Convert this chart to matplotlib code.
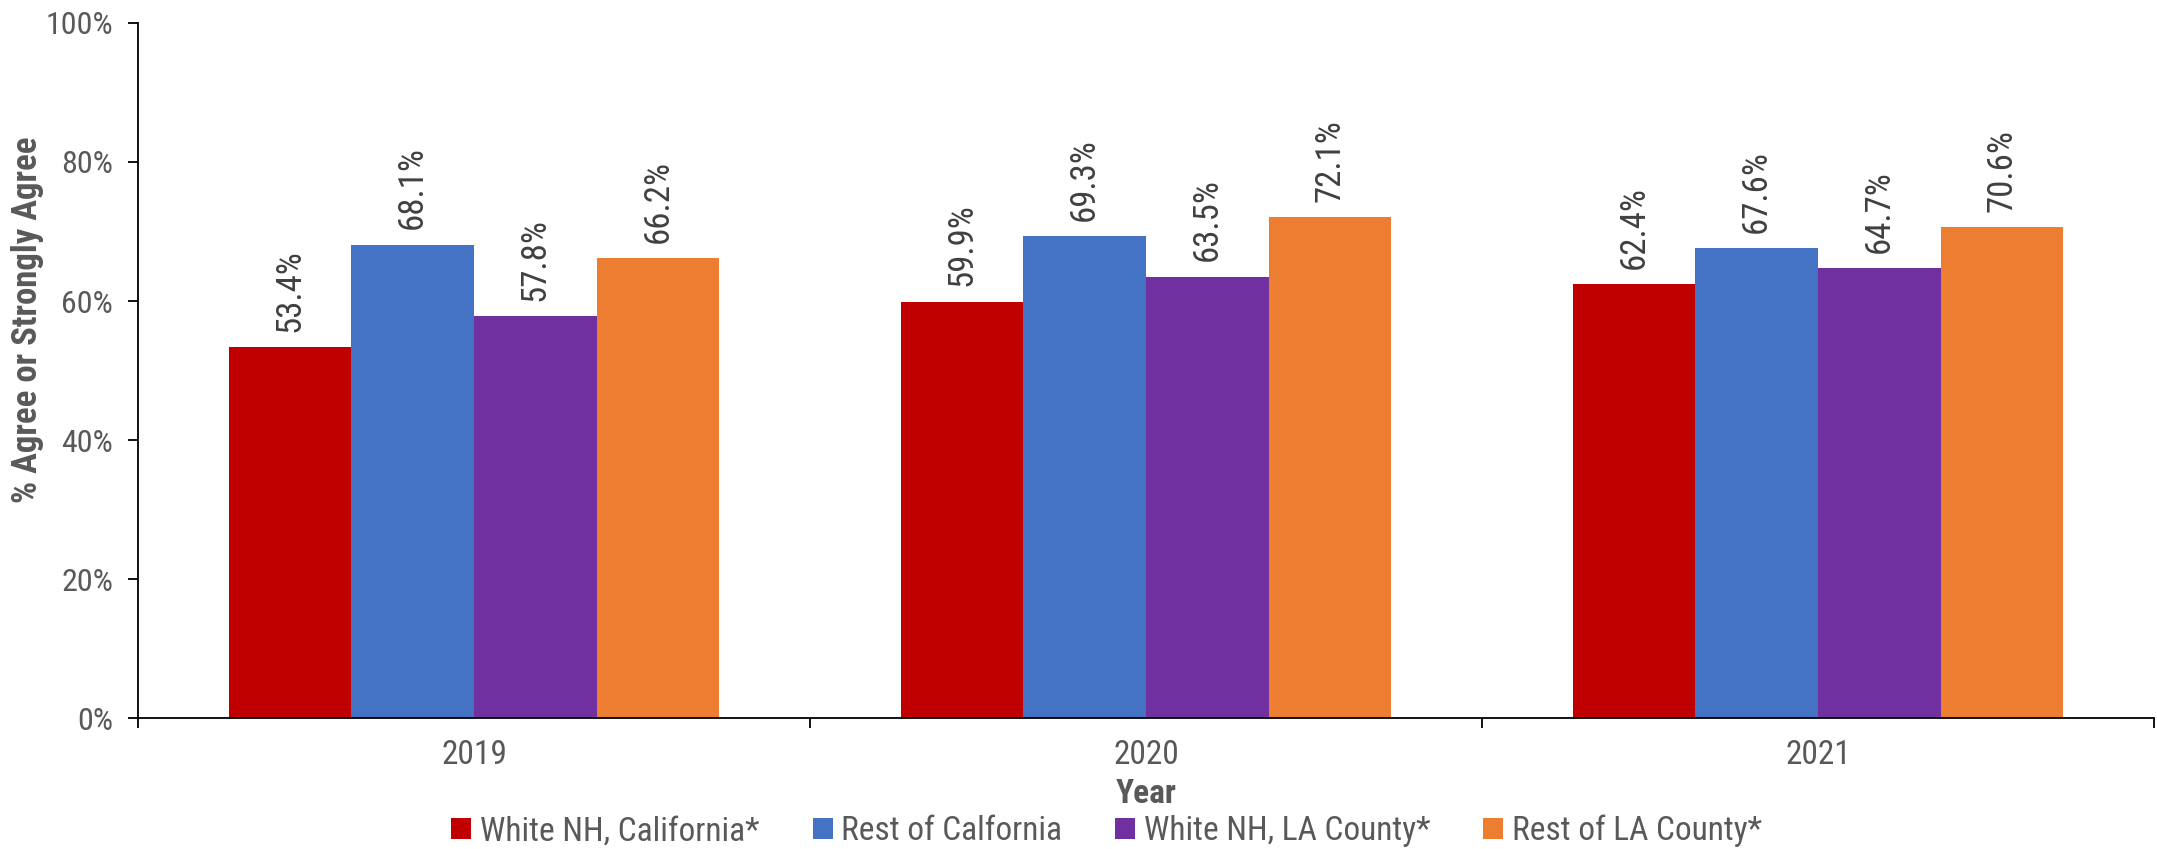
import matplotlib
matplotlib.use("Agg")
import matplotlib.pyplot as plt
import matplotlib.font_manager as fm
import numpy as np
from matplotlib.ticker import FuncFormatter, FixedLocator

# pick a narrow sans if one is installed (reference uses Calibri)
installed = {(f.name, f.stretch) for f in fm.fontManager.ttflist}
names = {n for n, s in installed}
font_family = "Liberation Sans"
font_stretch = "normal"
for n in ["Liberation Sans Narrow", "Roboto Condensed", "Open Sans Condensed"]:
    if n in names:
        font_family = n
        break
else:
    for n in ["Roboto", "Open Sans", "Noto Sans", "DejaVu Sans"]:
        hits = [s for nn, s in installed if nn == n and "condensed" in str(s)]
        if hits:
            font_family, font_stretch = n, hits[0]
            break

plt.rcParams['font.family'] = [font_family, 'DejaVu Sans']
plt.rcParams['font.stretch'] = font_stretch

# data
years = ["2019", "2020", "2021"]
series_names = ["White NH, California*", "Rest of Calfornia",
                "White NH, LA County*", "Rest of LA County*"]
white_nh_ca = [53.4, 59.9, 62.4]
rest_ca = [68.1, 69.3, 67.6]
white_nh_la = [57.8, 63.5, 64.7]
rest_la = [66.2, 72.1, 70.6]
colors = ["#C00000", "#4472C4", "#7030A0", "#ED7D31"]

all_series = [white_nh_ca, rest_ca, white_nh_la, rest_la]
text_gray = "#595959"
label_gray = "#404040"

fig = plt.figure(figsize=(21.57, 8.49), dpi=100)
ax = fig.add_axes([0.064, 0.154, 0.9346, 0.819])

x = np.arange(len(years))
width = 0.1826
for i, (name, vals, c) in enumerate(zip(series_names, all_series, colors)):
    pos = x + (i - 1.5) * width
    bars = ax.bar(pos, vals, width, color=c, label=name)
    for b, v in zip(bars, vals):
        ax.annotate(f"{v:.1f}%", (b.get_x() + b.get_width() / 2, v),
                    xytext=(0, 11), textcoords="offset points",
                    rotation=90, ha="center", va="bottom",
                    fontsize=25, color=label_gray)

ax.set_xlim(-0.5, 2.5)
ax.set_ylim(0, 100)
ax.set_yticks(np.arange(0, 101, 20))
ax.yaxis.set_major_formatter(FuncFormatter(lambda v, p: f"{v:.0f}%"))
ax.set_xticks(x)
ax.set_xticklabels(years)
ax.xaxis.set_minor_locator(FixedLocator([-0.5, 0.5, 1.5, 2.5]))
ax.tick_params(axis="x", which="major", length=0, labelsize=24,
               labelcolor=text_gray, pad=15)
ax.tick_params(axis="x", which="minor", length=7, width=1.3, direction="out")
ax.tick_params(axis="y", length=7, width=1.3, labelsize=23,
               labelcolor=text_gray, pad=11)

for s in ["top", "right"]:
    ax.spines[s].set_visible(False)
for s in ["left", "bottom"]:
    ax.spines[s].set_linewidth(1.3)
    ax.spines[s].set_color("black")

ax.set_xlabel("Year", fontsize=24, fontweight="bold", color=text_gray)
ax.xaxis.set_label_coords(0.5, -0.109)
ax.xaxis.label.set_va("center")
ax.set_ylabel("% Agree or Strongly Agree", fontsize=25, fontweight="bold",
              color=text_gray)
ax.yaxis.set_label_coords(-0.055, 0.573)
ax.yaxis.label.set_va("center")

leg = fig.legend(loc="center", bbox_to_anchor=(0.513, 0.021), ncol=4,
                 frameon=False, fontsize=24, handlelength=0.6, handleheight=0.6,
                 handletextpad=0.25, columnspacing=1.6)
for t in leg.get_texts():
    t.set_color(text_gray)

fig.savefig("out.png", dpi=100)
